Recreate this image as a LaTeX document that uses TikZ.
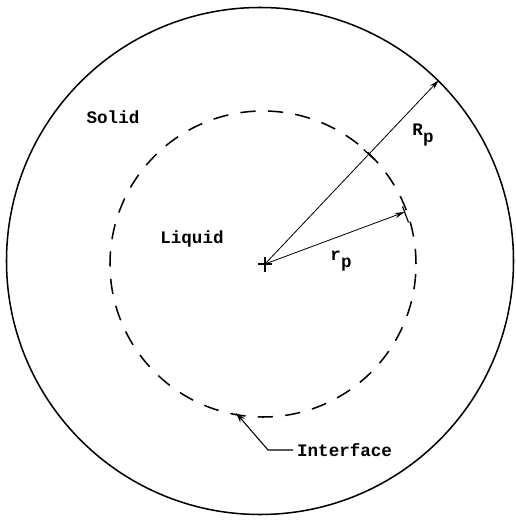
\documentclass[tikz,border=0pt]{standalone}
\usepackage{fontspec}
\setmonofont{Liberation Mono}
\usepackage{tikz}
\usetikzlibrary{arrows.meta,calc}
\newcommand{\lowsub}[1]{\raisebox{-0.75ex}{#1}}

\begin{document}
\begin{tikzpicture}[x=0.03cm,y=0.03cm,font=\fontsize{15}{17}\selectfont\ttfamily\bfseries,
  wall/.style={line width=1.3pt},
  front/.style={line width=1.3pt,dash pattern=on 13pt off 10.5pt},
  radius arrow/.style={line width=0.7pt,-{Stealth[length=3mm,width=1.6mm]}},
  tickmark/.style={line width=1pt},
]
\useasboundingbox (0,0) rectangle (516,520);

\coordinate (ctr) at (265,256);
\coordinate (octr) at (260,259);
\coordinate (dctr) at (263,256);

% solid wall and solid/liquid front
\draw[wall] (octr) circle [radius=253.5];
\draw[front] (dctr) circle [radius=153];

% centre mark
\draw[tickmark] ($(ctr)+(-7,0)$) -- ($(ctr)+(7,0)$);
\draw[tickmark] ($(ctr)+(0,-8)$) -- ($(ctr)+(0,7)$);

% radii
\coordinate (Rtip) at ($(ctr)+(46.6:253)$);
\coordinate (Rcut) at ($(ctr)+(46.6:151)$);
\coordinate (rtip) at ($(ctr)+(20.4:149)$);
\draw[radius arrow] (ctr) -- (Rtip);
\draw[radius arrow] (ctr) -- (rtip);
\draw[tickmark] ($(Rcut)+(136.6:7)$) -- ($(Rcut)+(-43.4:7)$);
\draw[tickmark] ($(rtip)+(110.4:6)$) -- ($(rtip)+(-69.6:11)$);

\node (Rlab) at (423,385) {R\lowsub{p}};
\node (rlab) at (341,259) {r\lowsub{p}};
\node (solid) at (113,403) {Solid};
\node (liquid) at (192,281) {Liquid};

% interface pointer
\node[anchor=west] (iface) at (293,70) {Interface};
\coordinate (knee) at (268,70);
\coordinate (itip) at (236,107);
\draw[line width=0.9pt,-{Stealth[length=3mm,width=1.8mm]}]
  (iface.west) -- (knee) -- (itip);
\end{tikzpicture}
\end{document}
